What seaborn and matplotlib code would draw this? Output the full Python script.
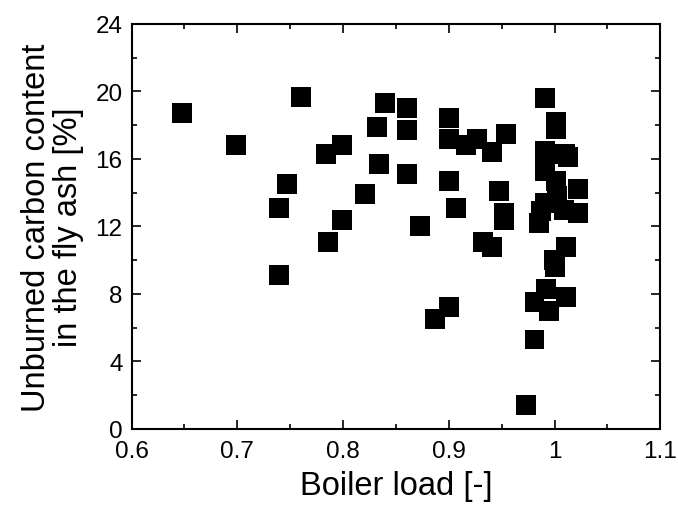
import matplotlib
matplotlib.use("Agg")
from matplotlib import pyplot as plt
from matplotlib.ticker import MultipleLocator, FormatStrFormatter
import seaborn as sns
import pandas as pd

# boiler load [-] and unburned carbon in fly ash [%]
boiler_load = [0.648, 0.760, 0.699, 0.840, 0.860, 0.860, 0.832, 0.799, 0.784, 0.834,
               0.860, 0.821, 0.747, 0.739, 0.799, 0.786, 0.739,
               0.900, 0.900, 0.916, 0.927, 0.941, 0.954, 0.900, 0.907, 0.947,
               0.952, 0.952, 0.873, 0.932, 0.941, 0.900, 0.887,
               0.991, 1.001, 1.001, 0.991, 1.010, 1.013, 0.991, 1.001, 1.022, 1.002,
               0.991, 0.987, 0.985, 1.009, 1.022, 1.011, 0.999, 1.000, 0.992, 0.981,
               1.011, 0.995, 0.981, 0.973]
unburned_carbon = [18.7, 19.7, 16.8, 19.3, 19.0, 17.7, 17.9, 16.8, 16.3, 15.7,
                   15.1, 13.9, 14.5, 13.1, 12.4, 11.1, 9.1,
                   18.4, 17.2, 16.8, 17.2, 16.4, 17.5, 14.7, 13.1, 14.1,
                   12.8, 12.4, 12.0, 11.1, 10.8, 7.2, 6.5,
                   19.6, 18.2, 17.8, 16.5, 16.3, 16.1, 15.3, 14.7, 14.2, 13.8,
                   13.4, 12.9, 12.2, 13.0, 12.8, 10.8, 10.0, 9.6, 8.3, 7.5,
                   7.8, 7.0, 5.3, 1.4]

df = pd.DataFrame({"load": boiler_load, "carbon": unburned_carbon})

sns.set_style("ticks")
plt.rcParams['font.family'] = ['Liberation Sans', 'DejaVu Sans']
plt.rcParams['xtick.direction'] = 'in'
plt.rcParams['ytick.direction'] = 'in'
plt.rcParams['text.color'] = 'black'
plt.rcParams['axes.labelcolor'] = 'black'

fig = plt.figure(figsize=(6.78, 5.10), dpi=100)
ax = fig.add_axes([0.194, 0.157, 0.780, 0.794])

sns.scatterplot(data=df, x="load", y="carbon", marker="s", s=207,
                color="black", edgecolor="none", linewidth=0, ax=ax)

ax.set_xlim(0.6, 1.1)
ax.set_ylim(0, 24)
ax.xaxis.set_major_locator(MultipleLocator(0.1))
ax.xaxis.set_minor_locator(MultipleLocator(0.05))
ax.yaxis.set_major_locator(MultipleLocator(4))
ax.yaxis.set_minor_locator(MultipleLocator(2))
ax.xaxis.set_major_formatter(FormatStrFormatter('%g'))
ax.tick_params(which='both', top=True, right=True, labelsize=17.5, width=1.2,
               colors='black')
ax.tick_params(axis='x', which='both', pad=8)
ax.tick_params(axis='y', which='both', pad=6.5)
ax.tick_params(which='major', length=6.5)
ax.tick_params(which='minor', length=3.6)
for sp in ax.spines.values():
    sp.set_linewidth(1.5)
    sp.set_color('black')

ax.set_xlabel("Boiler load [-]", fontsize=23.5, labelpad=6)
ax.set_ylabel("Unburned carbon content\nin the fly ash [%]", fontsize=23.5,
              labelpad=8, linespacing=1.05)

fig.savefig("out.png", dpi=100)
